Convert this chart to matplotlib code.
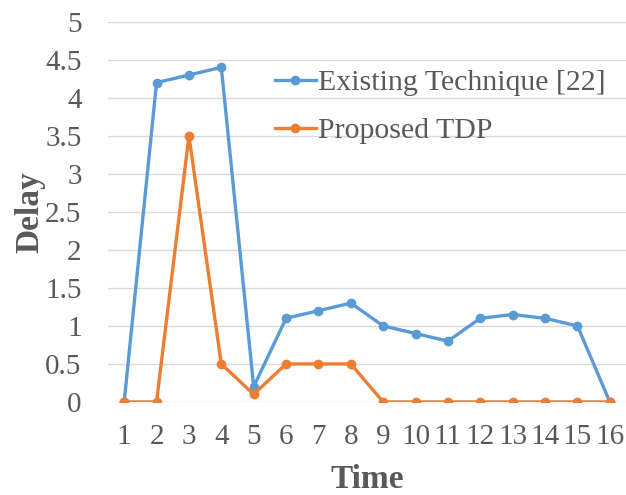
import matplotlib
matplotlib.use("Agg")
import matplotlib.pyplot as plt

# data
time = list(range(1, 17))
existing = [0, 4.2, 4.3, 4.4, 0.2, 1.1, 1.2, 1.3, 1.0, 0.9, 0.8, 1.1, 1.15, 1.1, 1.0, 0]
proposed = [0, 0, 3.5, 0.5, 0.1, 0.5, 0.5, 0.5, 0, 0, 0, 0, 0, 0, 0, 0]
yticks = [0, 0.5, 1, 1.5, 2, 2.5, 3, 3.5, 4, 4.5, 5]

plt.rcParams['font.family'] = ['Liberation Serif', 'DejaVu Serif']
txt = '#595959'

fig = plt.figure(figsize=(6.26, 4.95), dpi=100)
ax = fig.add_axes([0.1725, 0.188, 0.8275, 0.768])

ax.plot(time, existing, color='#5B9BD5', lw=2.4, marker='o', ms=6,
        label='Existing Technique [22]', zorder=3)
ax.plot(time, proposed, color='#ED7D31', lw=2.4, marker='o', ms=6,
        label='Proposed TDP', zorder=3)

ax.set_xlim(0.5, 16.5)
ax.set_ylim(0, 5)
ax.set_xticks(time)
ax.set_yticks(yticks)
ax.set_yticklabels([f'{v:g}' for v in yticks])
ax.grid(axis='y', color='#d9d9d9', lw=1)
ax.set_axisbelow(True)
for s in ax.spines.values():
    s.set_visible(False)
ax.tick_params(length=0, labelsize=21, colors=txt)
ax.tick_params(axis='x', pad=16)
ax.tick_params(axis='y', pad=19)

ax.set_xlabel('Time', fontsize=24, fontweight='bold', color=txt, labelpad=10)
ax.set_ylabel('Delay', fontsize=24, fontweight='bold', color=txt, labelpad=0)

leg = ax.legend(loc='upper left', bbox_to_anchor=(0.271, 0.946), frameon=False,
                fontsize=21.5, handlelength=1.35, handletextpad=0.07,
                labelspacing=0.72, labelcolor=txt)

fig.savefig('out.png', dpi=100)
